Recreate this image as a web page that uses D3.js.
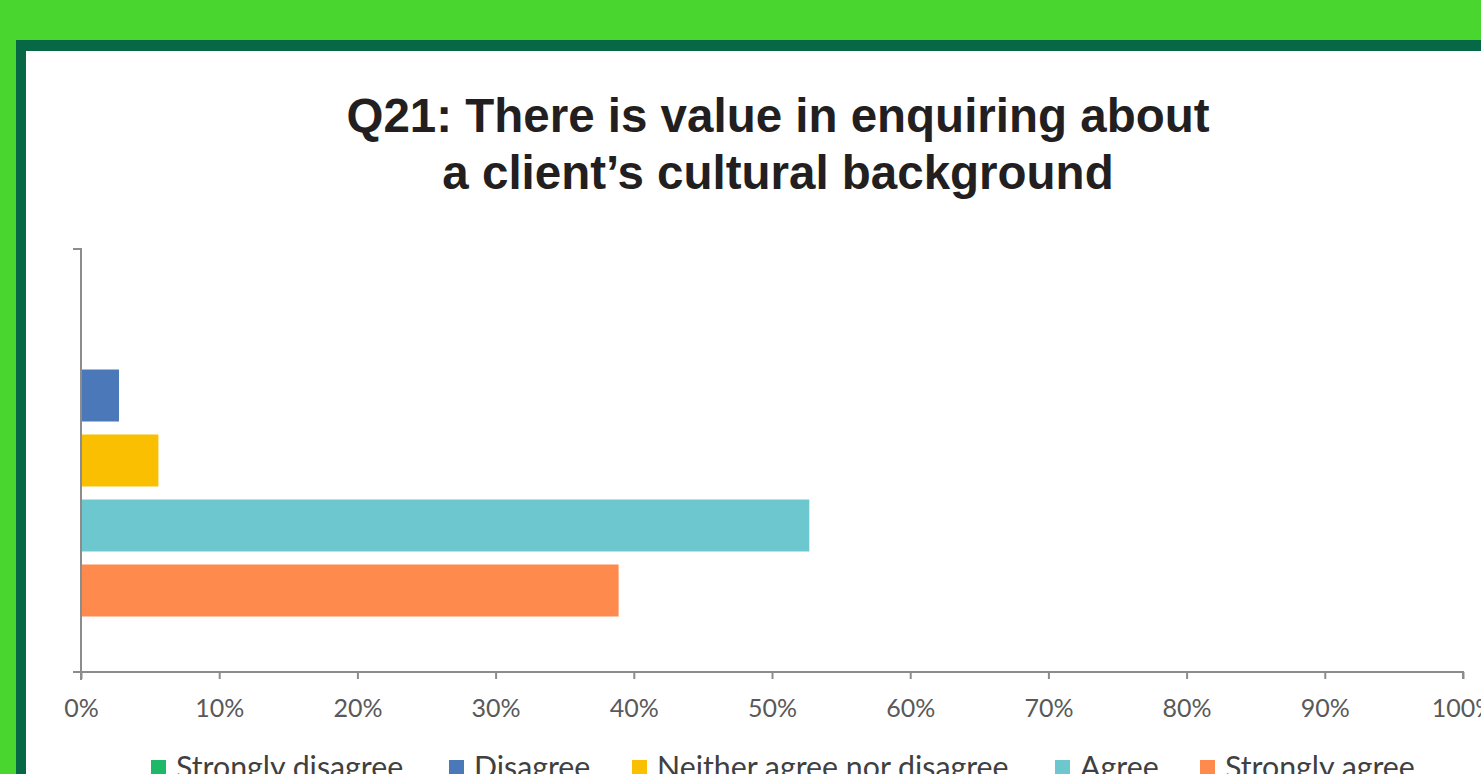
<!DOCTYPE html>
<html>
<head>
<meta charset="utf-8">
<script src="https://cdn.jsdelivr.net/npm/d3@7"></script>
<style>
  html, body { margin: 0; padding: 0; overflow: hidden; background: #48D62F; }
  svg { display: block; }
</style>
</head>
<body>
<svg id="chart" width="1481" height="774"></svg>
<script>
// Survey responses for Q21 (share of respondents)
const categories = ["Q21"];
const seriesNames = ["Strongly disagree", "Disagree", "Neither agree nor disagree", "Agree", "Strongly agree"];
const seriesValues = [0, 2.75, 5.6, 52.7, 38.9];
const seriesColors = ["#1DB868", "#4A78B9", "#F9BF00", "#6CC8CE", "#FF8A4E"];
const tickValues = [0, 10, 20, 30, 40, 50, 60, 70, 80, 90, 100];
const titleLines = ["Q21: There is value in enquiring about", "a client\u2019s cultural background"];

const svg = d3.select("#chart");
const W = 1481, H = 774;

// frame: bright green margin, dark green border, white panel
svg.append("rect").attr("x", 0).attr("y", 0).attr("width", W).attr("height", H).attr("fill", "#48D62F");
svg.append("rect").attr("x", 16).attr("y", 40).attr("width", W - 16).attr("height", H - 40).attr("fill", "#066844");
svg.append("rect").attr("x", 26).attr("y", 51).attr("width", W - 26).attr("height", H - 51).attr("fill", "#ffffff");

// title
const title = svg.append("text")
  .attr("text-anchor", "middle")
  .attr("font-family", "'Liberation Sans', Arial, Helvetica, sans-serif")
  .attr("font-weight", "bold")
  .attr("font-size", 47.5)
  .attr("fill", "#231F20");
titleLines.forEach((t, i) => {
  title.append("tspan").attr("x", 778).attr("y", 132 + i * 57).text(t);
});

// plot area
const x0 = 81, x1 = 1463, yTop = 249, yBot = 672;
const x = d3.scaleLinear().domain([0, 100]).range([x0, x1]);
const yCat = d3.scaleBand().domain(categories).range([yTop, yBot]).paddingInner(0).paddingOuter(0);
const ySer = d3.scaleBand().domain(seriesNames).range([0, yCat.bandwidth()]).paddingInner(0.2).paddingOuter(0.854);

const g = svg.append("g");

// bars
categories.forEach(cat => {
  g.selectAll("rect.bar")
    .data(seriesNames.map((s, i) => ({ s, v: seriesValues[i], c: seriesColors[i] })))
    .join("rect")
    .attr("class", "bar")
    .attr("x", x(0))
    .attr("y", d => yCat(cat) + ySer(d.s))
    .attr("width", d => x(d.v) - x(0))
    .attr("height", ySer.bandwidth())
    .attr("fill", d => d.c);
});

// x axis
const xAxis = d3.axisBottom(x).tickValues(tickValues).tickFormat(d => d + "%").tickSize(7).tickPadding(20);
const gx = svg.append("g").attr("transform", `translate(0,${yBot})`).call(xAxis);
gx.select(".domain").attr("stroke", "#8c8c8c").attr("stroke-width", 2).attr("d", `M${x0 - 8},0H${x1}v7`);
gx.selectAll(".tick line").attr("stroke", "#8c8c8c").attr("stroke-width", 2);
gx.selectAll(".tick text")
  .attr("fill", "#595959")
  .attr("font-family", "Lato, 'Open Sans', sans-serif")
  .attr("font-size", 25);

// y axis (category axis without labels)
const yAxis = d3.axisLeft(yCat).tickValues([]).tickSizeOuter(8);
const gy = svg.append("g").attr("transform", `translate(${x0},0)`).call(yAxis);
gy.select(".domain").attr("stroke", "#8c8c8c").attr("stroke-width", 2).attr("fill", "none")
  .attr("d", `M-8,${yTop}H0V${yBot + 8}`);

// legend
const legendX = [151, 449, 632, 1055, 1200];
const legend = svg.append("g").attr("transform", "translate(0,760)");
seriesNames.forEach((s, i) => {
  const it = legend.append("g").attr("transform", `translate(${legendX[i]},0)`);
  it.append("rect").attr("x", 0).attr("y", 0).attr("width", 15).attr("height", 15).attr("fill", seriesColors[i]);
  it.append("text").attr("x", 25).attr("y", 18)
    .attr("fill", "#404040")
    .attr("font-family", "Lato, 'Open Sans', sans-serif")
    .attr("font-size", 30.3)
    .text(s);
});
</script>
</body>
</html>
